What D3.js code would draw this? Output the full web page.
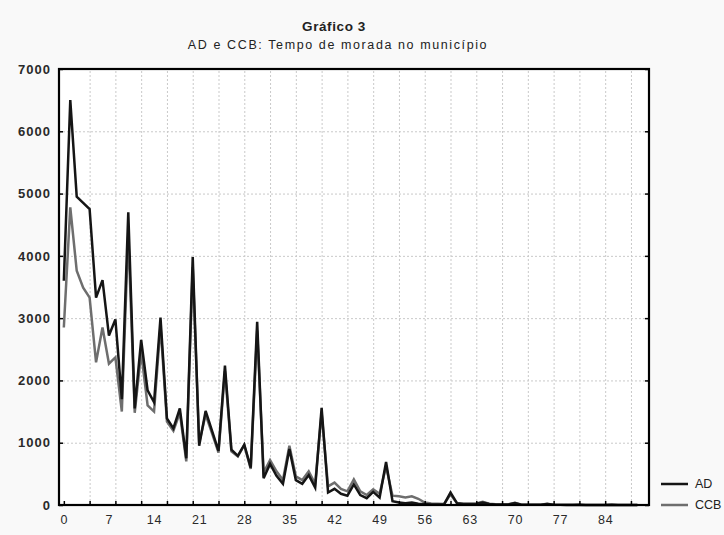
<!DOCTYPE html>
<html>
<head>
<meta charset="utf-8">
<script src="https://cdn.jsdelivr.net/npm/d3@7"></script>
<style>
  html, body { margin: 0; padding: 0; background: #f9f9f9; }
  svg { display: block; font-family: "Liberation Sans", Arial, sans-serif; }
</style>
</head>
<body>
<svg id="chart" width="724" height="535"></svg>
<script>
// Tempo de morada no município (anos), 0..89
const years = d3.range(0, 90);

const adValues = [
  3600, 6500, 4950, 4850, 4750, 3330, 3610, 2720, 2980, 1700,
  4700, 1550, 2650, 1840, 1650, 3010, 1390, 1230, 1550, 750,
  3980, 950, 1510, 1190, 870, 2240, 890, 790, 970, 600,
  2940, 430, 660, 470, 340, 900, 400, 340, 480, 280,
  1560, 200, 260, 180, 150, 330, 160, 110, 210, 120,
  690, 60, 40, 30, 40, 20, 15, 10, 10, 10,
  200, 30, 15, 15, 20, 40, 15, 10, 10, 10,
  30, 5, 5, 5, 5, 15, 3, 2, 2, 2,
  5, 2, 2, 2, 2, 3, 1, 1, 1, 1
];

const ccbValues = [
  2850, 4780, 3760, 3490, 3330, 2290, 2850, 2270, 2370, 1500,
  4350, 1480, 2450, 1600, 1500, 2880, 1340, 1190, 1480, 700,
  3820, 1000, 1450, 1150, 840, 2150, 860, 780, 960, 580,
  2800, 520, 720, 540, 400, 950, 460, 400, 540, 340,
  1480, 300, 360, 260, 220, 410, 220, 160, 250, 180,
  620, 150, 140, 120, 140, 100, 40, 25, 20, 15,
  170, 30, 20, 20, 25, 50, 20, 12, 10, 12,
  35, 6, 6, 5, 5, 18, 4, 3, 3, 3,
  6, 2, 2, 2, 2, 4, 1, 1, 1, 1
];

const seriesNames = ["AD", "CCB"];
const seriesColors = ["#151515", "#6e6e6e"];

const xLabelTicks = d3.range(0, 85, 7);   // 0, 7, ..., 84
const xMarkTicks = d3.range(0, 89, 4);    // tick marks / grid every 4
const yTicks = d3.range(0, 7001, 1000);

const titleText = "Gráfico 3";
const subtitleText = "AD e CCB: Tempo de morada no município";

const svg = d3.select("#chart");
const plotL = 59, plotR = 649, plotT = 69, plotB = 505;

const x = d3.scaleLinear().domain([-0.75, 90.8]).range([plotL, plotR]);
const y = d3.scaleLinear().domain([0, 7000]).range([plotB, plotT]);

// plot background
svg.append("rect")
  .attr("x", plotL).attr("y", plotT)
  .attr("width", plotR - plotL).attr("height", plotB - plotT)
  .attr("fill", "#ffffff");

// dotted grid
const gridY = svg.append("g")
  .attr("transform", `translate(${plotL},0)`)
  .call(d3.axisLeft(y).tickValues(yTicks.filter(v => v > 0 && v < 7000))
    .tickSize(-(plotR - plotL)).tickFormat(""));
const gridX = svg.append("g")
  .attr("transform", `translate(0,${plotB})`)
  .call(d3.axisBottom(x).tickValues(xMarkTicks.filter(v => v > 0))
    .tickSize(-(plotB - plotT)).tickFormat(""));
[gridX, gridY].forEach(g => {
  g.select(".domain").remove();
  g.selectAll("line").attr("stroke", "#c9c9c9").attr("stroke-width", 1)
    .attr("stroke-dasharray", "2,2");
});

// series lines
const line = d3.line().x((d, i) => x(years[i])).y(d => y(d));
svg.append("path").datum(ccbValues)
  .attr("d", line).attr("fill", "none")
  .attr("stroke", seriesColors[1]).attr("stroke-width", 2.5)
  .attr("stroke-linejoin", "miter");
svg.append("path").datum(adValues)
  .attr("d", line).attr("fill", "none")
  .attr("stroke", seriesColors[0]).attr("stroke-width", 2.5)
  .attr("stroke-linejoin", "miter");

// axes
const yAxis = svg.append("g")
  .attr("transform", `translate(${plotL},0)`)
  .call(d3.axisLeft(y).tickValues(yTicks).tickSizeInner(-4).tickSizeOuter(0)
    .tickPadding(8).tickFormat(d3.format("d")));
yAxis.selectAll("text")
  .attr("font-size", 13).attr("font-weight", "bold")
  .attr("letter-spacing", "1px").attr("fill", "#2a2a2a");

const yAxisR = svg.append("g")
  .attr("transform", `translate(${plotR},0)`)
  .call(d3.axisRight(y).tickValues(yTicks).tickSizeInner(-4).tickSizeOuter(0)
    .tickFormat(""));

const xAxisMarks = svg.append("g")
  .attr("transform", `translate(0,${plotB})`)
  .call(d3.axisBottom(x).tickValues(xMarkTicks).tickSizeInner(-4).tickSizeOuter(0)
    .tickFormat(""));

const xAxisLabels = svg.append("g")
  .attr("transform", `translate(0,${plotB})`)
  .call(d3.axisBottom(x).tickValues(xLabelTicks).tickSize(0).tickPadding(10)
    .tickFormat(d3.format("d")));
xAxisLabels.selectAll("text")
  .attr("font-size", 12.5).attr("fill", "#2a2a2a").attr("letter-spacing", "0.8px");

[yAxis, yAxisR, xAxisMarks, xAxisLabels].forEach(g => {
  g.select(".domain").remove();
  g.selectAll("line").attr("stroke", "#000").attr("stroke-width", 1.5);
});

// frame
svg.append("rect")
  .attr("x", plotL).attr("y", plotT)
  .attr("width", plotR - plotL).attr("height", plotB - plotT)
  .attr("fill", "none").attr("stroke", "#000").attr("stroke-width", 2.2);

// titles
svg.append("text")
  .attr("x", 334).attr("y", 31).attr("text-anchor", "middle")
  .attr("font-size", 13.5).attr("font-weight", "bold").attr("fill", "#222")
  .attr("letter-spacing", "0.6px")
  .text(titleText);
svg.append("text")
  .attr("x", 338).attr("y", 49).attr("text-anchor", "middle")
  .attr("font-size", 12.5).attr("fill", "#222").attr("letter-spacing", "1.6px")
  .text(subtitleText);

// legend
const legend = svg.append("g").attr("transform", "translate(661,0)");
const legendY = [484, 505];
seriesNames.forEach((name, i) => {
  legend.append("line")
    .attr("x1", 0).attr("x2", 27)
    .attr("y1", legendY[i]).attr("y2", legendY[i])
    .attr("stroke", seriesColors[i]).attr("stroke-width", 2.5);
  legend.append("text")
    .attr("x", 34).attr("y", legendY[i]).attr("dy", "0.35em")
    .attr("font-size", 12.5).attr("fill", "#222")
    .text(name);
});
</script>
</body>
</html>
